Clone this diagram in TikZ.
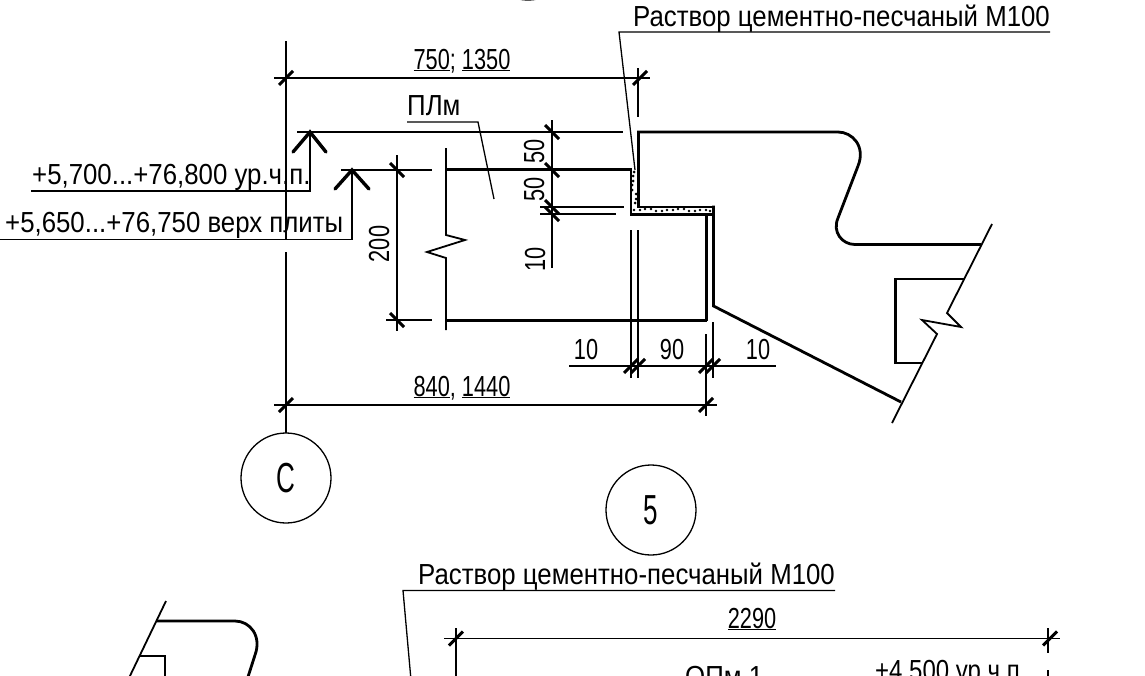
\documentclass[tikz,border=0pt]{standalone}
\usepackage{fontspec}
\setmainfont[FakeStretch=0.89]{Liberation Sans}
\newfontfamily\dimfont[FakeStretch=0.75]{Liberation Sans}
\newfontfamily\markfont[FakeStretch=0.62]{Liberation Sans}
\usepackage{tikz}
\tikzset{
	thin line/.style={line width=1.3pt},
	thick line/.style={line width=2.8pt},
	break line/.style={line width=1.8pt},
	label text/.style={inner sep=0pt,font=\fontsize{29}{29}\selectfont},
	dim text/.style={inner sep=0pt,font=\dimfont\fontsize{29}{29}\selectfont},
	mark circle/.style={draw,thin line,circle,minimum size=90pt,inner sep=0pt,font=\markfont\fontsize{42}{42}\selectfont},
	tick mark/.style={line width=3pt,black},
}
\newcommand{\tickH}[2]{\draw[tick mark] (#1-7,#2+7)--(#1+7,#2-7);}
\newcommand{\tickV}[2]{\draw[tick mark] (#1-7,#2-7)--(#1+7,#2+7);}
\begin{document}
\begin{tikzpicture}[x=1pt,y=-1pt]
	\useasboundingbox (0,0) rectangle (1145,675);
	\clip (0,0) rectangle (1145,675);
	% axis and circles
	\draw[thin line] (286,41)--(286,240);
	\draw[thin line] (286,252)--(286,433);
	\node[mark circle] (axisC) at (286,478) {C};
	\node[mark circle] (markFive) at (651,510) {5};
	\draw[thin line] (528,-45) circle (45);
	% level marks
	\draw[thin line] (297,132)--(623,132);
	\draw[thin line] (31,191)--(310,191)--(310,132);
	\draw[thick line,line cap=round,line width=3.4pt] (293,152)--(310,132)--(326,152);
	\node[label text,anchor=base west] (levelTop) at (32,184) {+5,700...+76,800 ур.ч.п.};
	\draw[thin line] (341,170)--(432,170);
	\draw[thin line] (0,239.5)--(352,239.5)--(352,170);
	\draw[thick line,line cap=round,line width=3.4pt] (335,189)--(352,170)--(369,189);
	\node[label text,anchor=base west] (levelSlab) at (5,232) {+5,650...+76,750 верх плиты};
	% top dimension
	\draw[thin line] (274,78)--(650,78);
	\draw[thin line] (638,68)--(638,117);
	\tickH{286}{78} \tickH{640}{78}
	\node[dim text,anchor=base] (dimTop) at (462,69) {\underline{750}; \underline{1350}};
	% bottom dimension
	\draw[thin line] (274,405)--(717,405);
	\tickH{286}{405} \tickH{706}{405}
	\node[dim text,anchor=base] (dimBottom) at (462,396) {\underline{840}, \underline{1440}};
	% height 200
	\draw[thin line] (397,155)--(397,331);
	\draw[thin line] (386,320)--(432,320);
	\tickV{397}{170} \tickV{397}{320}
	\node[dim text,rotate=90,anchor=base] (dimHeight) at (389,244) {200};
	% dimensions 50 50 10
	\draw[thin line] (552,120)--(552,268);
	\draw[thin line] (540,207)--(624,207);
	\draw[thin line] (540,214)--(616,214);
	\foreach \y in {132,170,207,214} {
		\tickV{552}{\y}
	}
	\node[dim text,rotate=90,anchor=base] (dimA) at (544,151) {50};
	\node[dim text,rotate=90,anchor=base] (dimB) at (544,189) {50};
	\node[dim text,rotate=90,anchor=base] (dimC) at (545,259) {10};
	% dimensions 10 90 10
	\draw[thin line] (569,366)--(776,366);
	\draw[thin line] (631,230)--(631,378);
	\draw[thin line] (638,230)--(638,378);
	\draw[thin line] (706,334)--(706,416);
	\draw[thin line] (713,322)--(713,378);
	\foreach \x in {631,638,706,713} {
		\tickH{\x}{366}
	}
	\node[dim text,anchor=base] (dimD) at (586,359) {10};
	\node[dim text,anchor=base] (dimE) at (672,359) {90};
	\node[dim text,anchor=base] (dimF) at (758,359) {10};
	% slab
	\draw[thick line] (446,169.5)--(631,169.5);
	\draw[thick line] (446,320.5)--(707,320.5);
	\draw[break line] (446,148)--(446,235)--(465,240)--(427,252)--(446,258)--(446,330);
	\draw[thick line] (706.5,214)--(706.5,321);
	% mortar
	\foreach \y in {172,176,181,185,190,194,199,203}
		\fill[black] ({632+mod(\y,5)},\y) circle (1.5);
	\foreach \x in {634,640,645,651,656,662,667,673,678,684,689,695,700,706,710}
		\fill[black] (\x,{209+mod(\x,3)}) circle (1.4);
	\draw[thick line] (631,168.1)--(631,214.5)--(713.5,214.5);
	\draw[thick line] (638.5,132)--(638.5,207)--(713.5,207);
	% upper step
	\draw[thick line] (637,132)--(838,132) .. controls (852,132) and (866,146) .. (858,166)--(838,218) .. controls (832,232) and (842,244.5) .. (855,244.5)--(981,244.5);
	\draw[thick line] (713.5,205.6)--(713.5,306)--(901,402);
	\draw[thick line] (964,279)--(895.5,279)--(895.5,363)--(922,363);
	\draw[break line] (992,224)--(947,313)--(961,327)--(922,320)--(937,334)--(892,423);
	% mortar leader
	\node[label text,anchor=base west] (mortarTop) at (633,26) {Раствор цементно-песчаный М100};
	\draw[thin line] (1050,32)--(619,32)--(635,170);
	% plm leader
	\node[label text,anchor=base west] (plmLabel) at (407,115) {ПЛм};
	\draw[thin line] (407,122)--(478,122)--(494,199);
	% lower drawing
	\node[label text,anchor=base west] (mortarLow) at (418,584) {Раствор цементно-песчаный М100};
	\draw[thin line] (835,590.5)--(403,590.5)--(411,680);
	\draw[thin line] (444,638.5)--(1060,638.5);
	\draw[thin line] (456,628)--(456,680);
	\draw[thin line] (1048,628)--(1048,653);
	\draw[thin line] (1048,670)--(1048,680);
	\tickH{456}{638.5} \tickH{1050}{638.5}
	\node[dim text,anchor=base] (dimLow) at (752,628) {\underline{2290}};
	\node[label text,anchor=base west] (opmLabel) at (685,686) {ОПм 1};
	\node[label text,anchor=base west,xscale=0.93,transform shape] (levelLow) at (875,680) {+4,500 ур.ч.п.};
	\draw[break line] (166,601)--(128,680);
	\draw[thick line] (157,621)--(235,621) .. controls (250,621) and (262,636) .. (255,655)--(247,680);
	\draw[thick line] (139,656)--(165,656)--(165,680);
\end{tikzpicture}
\end{document}
